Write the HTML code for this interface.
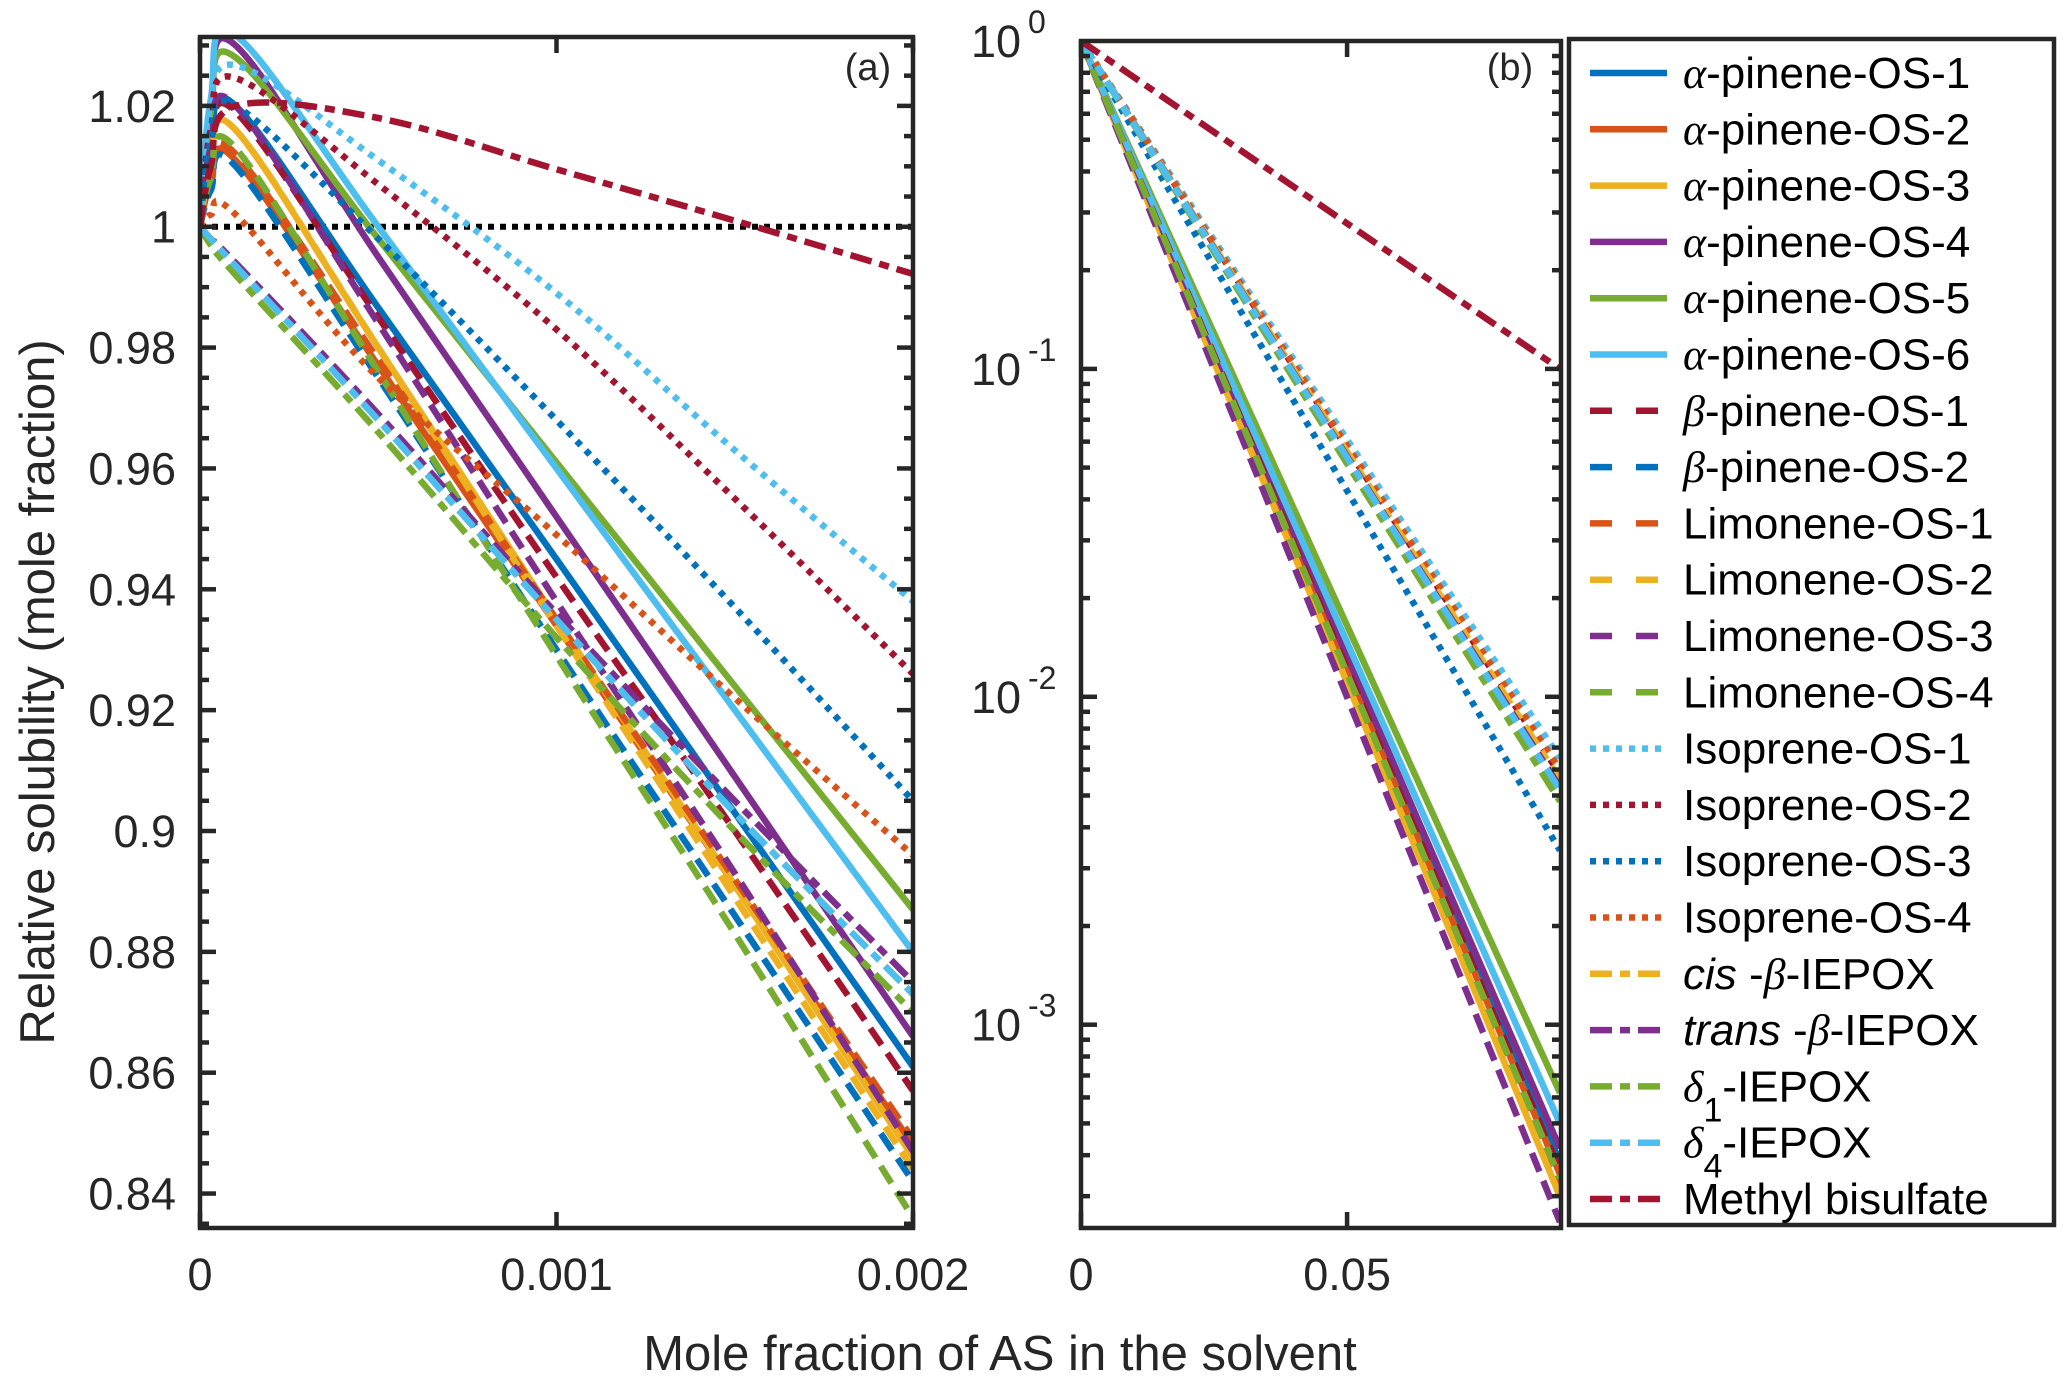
<!DOCTYPE html>
<html><head><meta charset="utf-8"><style>
html,body{margin:0;padding:0;background:#fff}
svg{display:block}
text{font-family:"Liberation Sans",sans-serif;fill:#262626}
</style></head><body>
<svg id="chart" xmlns="http://www.w3.org/2000/svg" width="2067" height="1388" viewBox="0 0 2067 1388">
<defs>
<clipPath id="clipA"><rect x="200" y="37" width="713" height="1191"/></clipPath>
<clipPath id="clipB"><rect x="1081" y="41" width="480" height="1187"/></clipPath>
</defs>
<g id="panelA"></g>
<g id="panelB"></g>
<g id="legend"></g>
<text transform="translate(54,692) rotate(-90)" text-anchor="middle" font-size="49">Relative solubility (mole fraction)</text>
<text x="1000" y="1370" text-anchor="middle" font-size="49">Mole fraction of AS in the solvent</text>
<text x="868" y="80" text-anchor="middle" font-size="38" fill="#000">(a)</text>
<text x="1510" y="80" text-anchor="middle" font-size="38" fill="#000">(b)</text>
</svg>
<script>
// ---------- data ----------
const seriesNames = ["α-pinene-OS-1","α-pinene-OS-2","α-pinene-OS-3","α-pinene-OS-4","α-pinene-OS-5","α-pinene-OS-6","β-pinene-OS-1","β-pinene-OS-2","Limonene-OS-1","Limonene-OS-2","Limonene-OS-3","Limonene-OS-4","Isoprene-OS-1","Isoprene-OS-2","Isoprene-OS-3","Isoprene-OS-4","cis-β-IEPOX","trans-β-IEPOX","δ1-IEPOX","δ4-IEPOX","Methyl bisulfate"];
const xA = [0, 0.00003, 0.0001, 0.0005, 0.001, 0.0015, 0.002];
const a1 = [1, 1.013, 1.020, 0.9866, 0.945, 0.903, 0.861];
const a2 = [1, 1.007, 1.011, 0.977, 0.934, 0.891, 0.848];
const a3 = [1, 1.010, 1.016, 0.980, 0.935, 0.891, 0.846];
const a4 = [1, 1.020, 1.030, 0.995, 0.952, 0.909, 0.866];
const a5 = [1, 1.019, 1.028, 0.998, 0.961, 0.924, 0.887];
const a6 = [1, 1.021, 1.0317, 1.000, 0.960, 0.920, 0.880];
const b1 = [1, 1.012, 1.019, 0.985, 0.942, 0.900, 0.857];
const b2 = [1, 1.006, 1.010, 0.975, 0.930, 0.886, 0.842];
const l1 = [1, 1.008, 1.012, 0.978, 0.935, 0.892, 0.849];
const l2 = [1, 1.010, 1.016, 0.980, 0.934, 0.889, 0.844];
const l3 = [1, 1.013, 1.020, 0.984, 0.938, 0.893, 0.847];
const l4 = [1, 1.008, 1.013, 0.976, 0.929, 0.883, 0.836];
const i1 = [1, 1.017, 1.0267, 1.011, 0.989, 0.963, 0.938];
const i2 = [1, 1.016, 1.0246, 1.007, 0.983, 0.955, 0.926];
const i3 = [1, 1.014, 1.020, 0.998, 0.968, 0.937, 0.905];
const i4 = [1, 1.002, 1.002, 0.975, 0.949, 0.922, 0.896];
const e1 = [1, 0.998, 0.9935, 0.968, 0.935, 0.903, 0.873];
const e2 = [1, 0.998, 0.994, 0.969, 0.936, 0.905, 0.875];
const e3 = [1, 0.997, 0.992, 0.966, 0.932, 0.900, 0.870];
const e4 = [1, 0.998, 0.9935, 0.968, 0.935, 0.903, 0.873];
const m1 = [1, 1.010, 1.020, 1.018, 1.0095, 1.001, 0.9922];
const xB = [0, 0.03, 0.06, 0.09];
const ba1 = [1, 0.0724, 0.00525, 0.00038];
const ba2 = [1, 0.0703, 0.00495, 0.00035];
const ba3 = [1, 0.0669, 0.00448, 0.00030];
const ba4 = [1, 0.0749, 0.00561, 0.00042];
const ba5 = [1, 0.0852, 0.00726, 0.00062];
const ba6 = [1, 0.0794, 0.00630, 0.00050];
const bb1 = [1, 0.0711, 0.00506, 0.00036];
const bb2 = [1, 0.0690, 0.00477, 0.00033];
const bl1 = [1, 0.0684, 0.00467, 0.00032];
const bl2 = [1, 0.0669, 0.00448, 0.00030];
const bl3 = [1, 0.0630, 0.00397, 0.00025];
const bl4 = [1, 0.0697, 0.00485, 0.00034];
const bi1 = [1, 0.187, 0.0348, 0.0065];
const bi2 = [1, 0.180, 0.0323, 0.0058];
const bi3 = [1, 0.150, 0.0226, 0.0034];
const bi4 = [1, 0.182, 0.0330, 0.0060];
const be1 = [1, 0.177, 0.0314, 0.0056];
const be2 = [1, 0.174, 0.0302, 0.0053];
const be3 = [1, 0.169, 0.0284, 0.0048];
const be4 = [1, 0.173, 0.0299, 0.0052];
const bm1 = [1, 0.464, 0.215, 0.100];
const yTicksA = [0.84,0.86,0.88,0.9,0.92,0.94,0.96,0.98,1,1.02];
const yTickLabelsA = ["0.84","0.86","0.88","0.9","0.92","0.94","0.96","0.98","1","1.02"];
const xTicksA = [0, 0.001, 0.002];
const xTickLabelsA = ["0","0.001","0.002"];
const xTicksB = [0, 0.05];
const xTickLabelsB = ["0","0.05"];
const yTicksB = [0, -1, -2, -3];

const seriesA = [a1,a2,a3,a4,a5,a6,b1,b2,l1,l2,l3,l4,i1,i2,i3,i4,e1,e2,e3,e4,m1];
const seriesB = [ba1,ba2,ba3,ba4,ba5,ba6,bb1,bb2,bl1,bl2,bl3,bl4,bi1,bi2,bi3,bi4,be1,be2,be3,be4,bm1];

// ---------- styles ----------
const C = {blue:"#0072BD",orange:"#D95319",yellow:"#EDB120",purple:"#7E2F8E",green:"#77AC30",lblue:"#4DBEEE",red:"#A2142F"};
const colors = [C.blue,C.orange,C.yellow,C.purple,C.green,C.lblue,C.red,C.blue,C.orange,C.yellow,C.purple,C.green,C.lblue,C.red,C.blue,C.orange,C.yellow,C.purple,C.green,C.lblue,C.red];
const DASH = {solid:null, dash:"20 10", dot:"6 7", dashdot:"22 8 10 8"};
const styles = ["solid","solid","solid","solid","solid","solid","dash","dash","dash","dash","dash","dash","dot","dot","dot","dot","dashdot","dashdot","dashdot","dashdot","dashdot"];

const NS = "http://www.w3.org/2000/svg";
function mk(tag, attrs, parent){const e=document.createElementNS(NS,tag);for(const k in attrs)e.setAttribute(k,attrs[k]);if(parent)parent.appendChild(e);return e;}

const A = {x0:200,x1:913,y0:37,y1:1228,xmin:0,xmax:0.002,ymin:0.8343,ymax:1.0314};
const B = {x0:1081,x1:1561,y0:41,y1:1228,xmin:0,xmax:0.0902,lmin:-3.62,lmax:0};
const sxA = v => A.x0 + (v-A.xmin)/(A.xmax-A.xmin)*(A.x1-A.x0);
const syA = v => A.y1 - (v-A.ymin)/(A.ymax-A.ymin)*(A.y1-A.y0);
const sxB = v => B.x0 + (v-B.xmin)/(B.xmax-B.xmin)*(B.x1-B.x0);
const syB = v => B.y1 - (Math.log10(v)-B.lmin)/(B.lmax-B.lmin)*(B.y1-B.y0);

function smoothPath(pts){
  let d = "M"+pts[0][0].toFixed(1)+","+pts[0][1].toFixed(1);
  for(let i=0;i<pts.length-1;i++){
    const p0=pts[Math.max(0,i-1)],p1=pts[i],p2=pts[i+1],p3=pts[Math.min(pts.length-1,i+2)];
    const t=0.18;
    const c1=[p1[0]+(p2[0]-p0[0])*t,p1[1]+(p2[1]-p0[1])*t];
    const c2=[p2[0]-(p3[0]-p1[0])*t,p2[1]-(p3[1]-p1[1])*t];
    d+=" C"+c1[0].toFixed(1)+","+c1[1].toFixed(1)+" "+c2[0].toFixed(1)+","+c2[1].toFixed(1)+" "+p2[0].toFixed(1)+","+p2[1].toFixed(1);
  }
  return d;
}
function applyStyle(el,i){
  el.setAttribute("stroke",colors[i]);el.setAttribute("stroke-width","6.5");el.setAttribute("fill","none");
  if(DASH[styles[i]])el.setAttribute("stroke-dasharray",DASH[styles[i]]);
}
function slug(s){return s.replace(/α/g,"alpha").replace(/β/g,"beta").replace(/δ/g,"delta").toLowerCase().replace(/[^a-z0-9]+/g,"-").replace(/^-|-$/g,"");}

const gA = document.getElementById("panelA");
const gB = document.getElementById("panelB");
const axisCol = "#262626";

// ----- Panel A -----
const plotA = mk("g",{"clip-path":"url(#clipA)"},gA);


const ref = mk("line",{x1:sxA(0),x2:sxA(0.002),y1:syA(1),y2:syA(1),stroke:"#000","stroke-width":6,"stroke-dasharray":"6 6"},plotA);


seriesA.forEach((vals,i)=>{
  const pts = xA.map((x,j)=>[sxA(x),syA(vals[j])]);
  const p = mk("path",{d:smoothPath(pts)},plotA);
  applyStyle(p,i);
  
  
});
const axA = mk("g",{stroke:axisCol,"stroke-width":4.5,fill:"none"},gA);


mk("rect",{x:A.x0,y:A.y0,width:A.x1-A.x0,height:A.y1-A.y0},axA);
for(let v=0.835; v<=1.0301; v+=0.005){
  const y=syA(v); const major = Math.abs(Math.round(v*100)/100 - v)<1e-6 && Math.round(v*100)%2===0;
  const L = major?16:9;
  mk("line",{x1:A.x0,x2:A.x0+L,y1:y,y2:y},axA);
  mk("line",{x1:A.x1,x2:A.x1-L,y1:y,y2:y},axA);
}
yTicksA.forEach((v,i)=>{
  const t = mk("text",{x:176,y:syA(v)+16,"text-anchor":"end","font-size":45},gA);
  t.textContent = yTickLabelsA[i];
  
  
});
xTicksA.forEach((v,i)=>{
  const x=sxA(v);
  mk("line",{x1:x,x2:x,y1:A.y1,y2:A.y1-16},axA);
  mk("line",{x1:x,x2:x,y1:A.y0,y2:A.y0+16},axA);
  const t = mk("text",{x:x,y:1290,"text-anchor":"middle","font-size":45},gA);
  t.textContent = xTickLabelsA[i];
  
  
});

// ----- Panel B -----
const plotB = mk("g",{"clip-path":"url(#clipB)"},gB);


seriesB.forEach((vals,i)=>{
  const pts = xB.map((x,j)=>[sxB(x),syB(vals[j])]);
  const p = mk("path",{d:smoothPath(pts)},plotB);
  applyStyle(p,i);
  
  
});
const axB = mk("g",{stroke:axisCol,"stroke-width":4.5,fill:"none"},gB);


mk("rect",{x:B.x0,y:B.y0,width:B.x1-B.x0,height:B.y1-B.y0},axB);
for(let d=0; d>=-4; d--){
  for(let m=1;m<=9;m++){
    const val = m*Math.pow(10,d-1);
    const lv=Math.log10(val); if(lv<B.lmin||lv>B.lmax+1e-9) continue;
    const y=syB(val); const L = m===1?16:9;
    mk("line",{x1:B.x0,x2:B.x0+L,y1:y,y2:y},axB);
    mk("line",{x1:B.x1,x2:B.x1-L,y1:y,y2:y},axB);
  }
}
yTicksB.forEach(e=>{
  const y=syB(Math.pow(10,e));
  const t = mk("text",{x:1021,y:y+16,"text-anchor":"end","font-size":45},gB);
  t.textContent="10";
  
  
  const s = mk("text",{x:1028,y:y-8,"font-size":32},gB);
  s.textContent = e===0?"0":String(e);
  
  
});
xTicksB.forEach((v,i)=>{
  const x=sxB(v);
  mk("line",{x1:x,x2:x,y1:B.y1,y2:B.y1-16},axB);
  mk("line",{x1:x,x2:x,y1:B.y0,y2:B.y0+16},axB);
  const t = mk("text",{x:x,y:1290,"text-anchor":"middle","font-size":45},gB);
  t.textContent = xTickLabelsB[i];
  
  
});

// ----- Legend -----
const lg = document.getElementById("legend");
const box = mk("rect",{x:1569,y:39,width:485,height:1186,fill:"#fff",stroke:axisCol,"stroke-width":4.5},lg);


const greek = "font-family:'Liberation Serif',serif;font-style:italic";
const labelsHTML = [
 `<tspan style="${greek}">α</tspan>-pinene-OS-1`,`<tspan style="${greek}">α</tspan>-pinene-OS-2`,`<tspan style="${greek}">α</tspan>-pinene-OS-3`,
 `<tspan style="${greek}">α</tspan>-pinene-OS-4`,`<tspan style="${greek}">α</tspan>-pinene-OS-5`,`<tspan style="${greek}">α</tspan>-pinene-OS-6`,
 `<tspan style="${greek}">β</tspan>-pinene-OS-1`,`<tspan style="${greek}">β</tspan>-pinene-OS-2`,
 `Limonene-OS-1`,`Limonene-OS-2`,`Limonene-OS-3`,`Limonene-OS-4`,
 `Isoprene-OS-1`,`Isoprene-OS-2`,`Isoprene-OS-3`,`Isoprene-OS-4`,
 `<tspan font-style="italic">cis</tspan> -<tspan style="${greek}">β</tspan>-IEPOX`,
 `<tspan font-style="italic">trans</tspan> -<tspan style="${greek}">β</tspan>-IEPOX`,
 `<tspan style="${greek}">δ</tspan><tspan dy="20" font-size="34">1</tspan><tspan dy="-20">-IEPOX</tspan>`,
 `<tspan style="${greek}">δ</tspan><tspan dy="20" font-size="34">4</tspan><tspan dy="-20">-IEPOX</tspan>`,
 `Methyl bisulfate`];
const legY0 = 73, legDy = 56.3;
seriesNames.forEach((n,i)=>{
  const y = legY0 + i*legDy;
  const g = mk("g",{},lg);
  
  
  const ln = mk("line",{x1:1590,x2:1667,y1:y,y2:y},g);
  applyStyle(ln,i);
  if(styles[i]==="dash"){ln.setAttribute("stroke-dasharray","22 24");}
  const t = mk("text",{x:1683,y:y+15,"font-size":44,fill:"#000"},g);
  t.style.fill="#000";
  t.innerHTML = labelsHTML[i];
});
</script>
</body></html>
